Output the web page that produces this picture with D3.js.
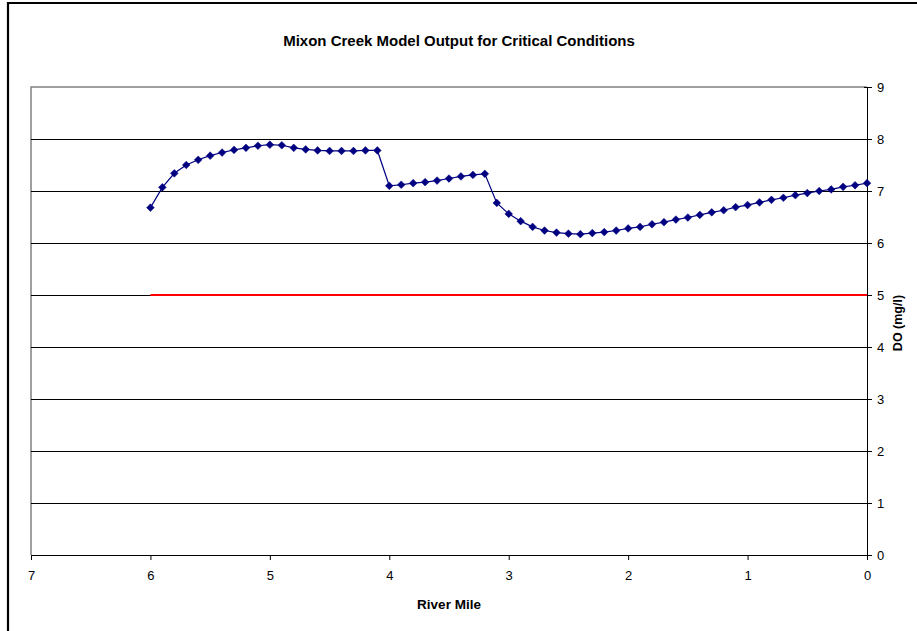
<!DOCTYPE html>
<html><head><meta charset="utf-8">
<script src="https://cdn.jsdelivr.net/npm/d3@7"></script>
<style>body{margin:0;background:#fff}svg{display:block}text{font-family:"Liberation Sans",Arial,sans-serif}</style>
</head><body>
<svg id="c" width="917" height="631"></svg>
<script>
const riverMile = [6.0,5.9,5.8,5.7,5.6,5.5,5.4,5.3,5.2,5.1,5.0,4.9,4.8,4.7,4.6,4.5,4.4,4.3,4.2,4.1,4.0,3.9,3.8,3.7,3.6,3.5,3.4,3.3,3.2,3.1,3.0,2.9,2.8,2.7,2.6,2.5,2.4,2.3,2.2,2.1,2.0,1.9,1.8,1.7,1.6,1.5,1.4,1.3,1.2,1.1,1.0,0.9,0.8,0.7,0.6,0.5,0.4,0.3,0.2,0.1,0.0];
const doValues = [6.68,7.07,7.34,7.50,7.60,7.68,7.74,7.79,7.83,7.87,7.89,7.88,7.83,7.80,7.78,7.77,7.77,7.77,7.78,7.78,7.10,7.12,7.15,7.17,7.20,7.24,7.28,7.31,7.33,6.77,6.56,6.42,6.31,6.24,6.20,6.18,6.17,6.19,6.21,6.24,6.28,6.31,6.36,6.40,6.45,6.49,6.54,6.59,6.63,6.69,6.73,6.78,6.83,6.87,6.92,6.96,7.00,7.03,7.08,7.11,7.15];
const standardMile = [6.0, 0.0];
const standardValue = [5, 5];
const xTicks = [7,6,5,4,3,2,1,0];
const yTicks = [0,1,2,3,4,5,6,7,8,9];
const titleText = "Mixon Creek Model Output for Critical Conditions";
const xTitle = "River Mile";
const yTitle = "DO (mg/l)";

const svg = d3.select("#c");
const L = 31, R = 867, T = 87, B = 555;
const x = d3.scaleLinear().domain([7,0]).range([L,R]);
const y = d3.scaleLinear().domain([0,9]).range([B,T]);

// outer frame (cropped at right/bottom)
svg.append("path").attr("d",`M8,640 L8,3 L925,3`).attr("fill","none").attr("stroke","#000").attr("stroke-width",2.2);

// plot area border (gray)
svg.append("path").attr("d",`M${L},${B} L${L},${T} L${R},${T}`).attr("fill","none").attr("stroke","#808080").attr("stroke-width",1.5);

// gridlines
svg.append("g").selectAll("line").data(yTicks.filter(d=>d>0&&d<9)).join("line")
  .attr("x1",L).attr("x2",R).attr("y1",d=>Math.round(y(d))+0.5).attr("y2",d=>Math.round(y(d))+0.5)
  .attr("stroke","#000").attr("stroke-width",1);

// x axis
const xa = svg.append("g").attr("transform",`translate(0,${B})`)
  .call(d3.axisBottom(x).tickValues(xTicks).tickFormat(d3.format("d")).tickSize(5).tickPadding(11));
xa.select(".domain").attr("stroke","#000").attr("d",`M${L},0.5H${R}`);
xa.selectAll("line").attr("stroke","#000");
xa.selectAll("text").attr("font-size",13).attr("fill","#000");

// y axis right
const ya = svg.append("g").attr("transform",`translate(${R},0)`)
  .call(d3.axisRight(y).tickValues(yTicks).tickFormat(d3.format("d")).tickSize(5).tickPadding(5));
ya.select(".domain").attr("stroke","#000").attr("d",`M0.5,${T}V${B}`);
ya.selectAll(".tick line").attr("x1",-3).attr("stroke","#000");
ya.selectAll("text").attr("font-size",13).attr("fill","#000");

// standard line
svg.append("path")
  .datum(standardMile.map((m,i)=>[m,standardValue[i]]))
  .attr("d",d3.line().x(d=>x(d[0])).y(d=>y(d[1])))
  .attr("stroke","#ff0000").attr("stroke-width",2).attr("fill","none");

// DO series
const pts = riverMile.map((m,i)=>[m,doValues[i]]);
svg.append("path").datum(pts)
  .attr("d",d3.line().x(d=>x(d[0])).y(d=>y(d[1])))
  .attr("stroke","#000080").attr("stroke-width",1.2).attr("fill","none");
svg.append("g").selectAll("path").data(pts).join("path")
  .attr("d",d3.symbol(d3.symbolDiamond2,38))
  .attr("transform",d=>`translate(${x(d[0])},${y(d[1])})`)
  .attr("fill","#000080").attr("stroke","#000080").attr("stroke-width",0.5);

// titles
svg.append("text").attr("x",459).attr("y",46).attr("text-anchor","middle")
  .attr("font-size",15).attr("font-weight","bold").text(titleText);
svg.append("text").attr("x",449).attr("y",609).attr("text-anchor","middle")
  .attr("font-size",13.5).attr("font-weight","bold").text(xTitle);
svg.append("text").attr("transform",`translate(901.5,323) rotate(-90)`).attr("text-anchor","middle")
  .attr("font-size",12.5).attr("font-weight","bold").text(yTitle);
</script>
</body></html>
